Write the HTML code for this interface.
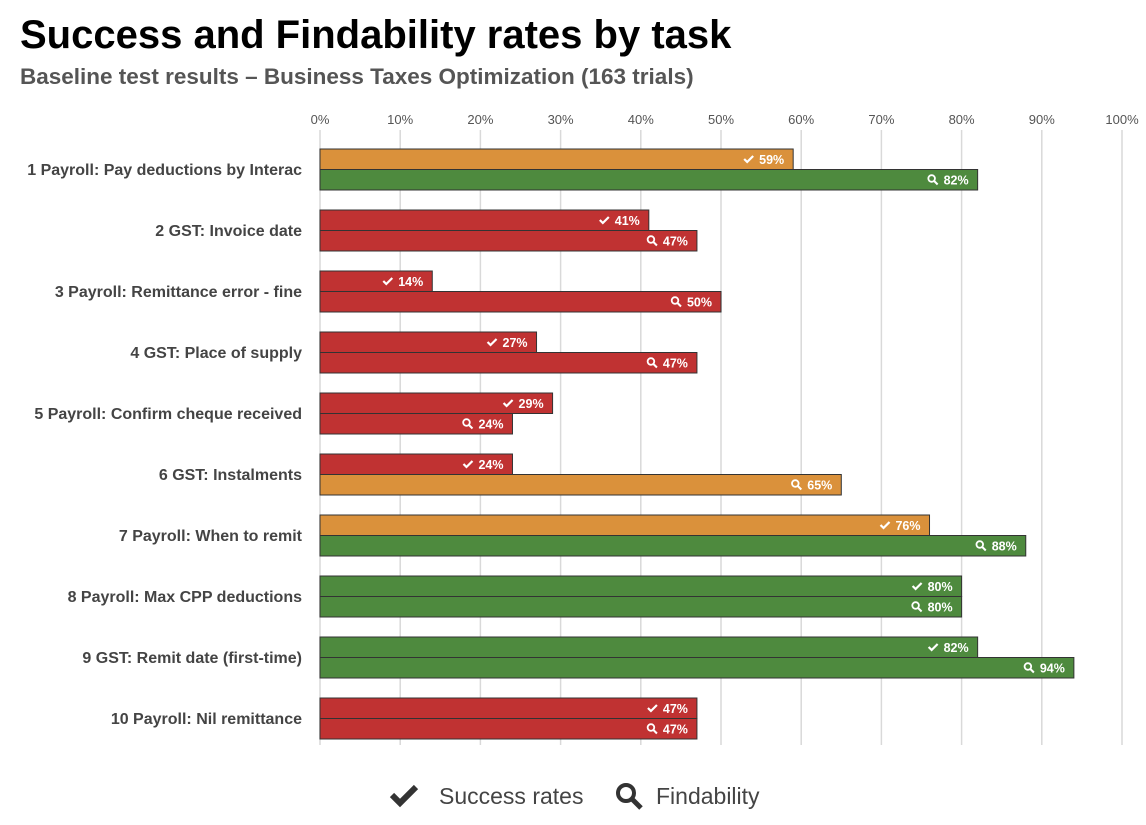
<!DOCTYPE html>
<html><head><meta charset="utf-8"><style>
body{margin:0;background:#fff;font-family:"Liberation Sans",sans-serif;}
svg{display:block}
</style></head><body>
<svg width="1146" height="825" id="chart">
<text x="20" y="48" font-size="40" font-weight="bold" fill="#000">Success and Findability rates by task</text>
<text x="20" y="84" font-size="22.5" font-weight="bold" fill="#555">Baseline test results – Business Taxes Optimization (163 trials)</text>
<g id="grid"></g><g id="bars"></g>
<g>
<path d="M392 795 l8 8 l16 -16" stroke="#333" stroke-width="6" fill="none"/>
<text x="439" y="804" font-size="23" fill="#444">Success rates</text>
<circle cx="626" cy="793" r="8" stroke="#333" stroke-width="4" fill="none"/>
<line x1="632" y1="799" x2="641" y2="808" stroke="#333" stroke-width="5"/>
<text x="656" y="804" font-size="23" fill="#444">Findability</text>
</g>
</svg>
<script>
const tasks=["1  Payroll: Pay deductions by Interac","2  GST: Invoice date","3  Payroll: Remittance error - fine","4  GST: Place of supply","5  Payroll: Confirm cheque received","6  GST: Instalments","7  Payroll: When to remit","8  Payroll: Max CPP deductions","9  GST: Remit date (first-time)","10  Payroll: Nil remittance"];
const success=[59,41,14,27,29,24,76,80,82,47];
const findability=[82,47,50,47,24,65,88,80,94,47];
const ticks=[0,10,20,30,40,50,60,70,80,90,100];
const NS="http://www.w3.org/2000/svg";
const X0=320,SC=8.02,Y0=149,ROW=61,BH=20.5;
const xs=v=>X0+v*SC;
function mk(t,a,p){const e=document.createElementNS(NS,t);for(const k in a)e.setAttribute(k,a[k]);p.appendChild(e);return e;}
function col(v){return v>=80?"#4E8A3E":v>50?"#DA913B":"#C03232";}
const g=document.getElementById('grid'),b=document.getElementById('bars');
ticks.forEach(t=>{
 const l=mk('line',{x1:xs(t),x2:xs(t),y1:130,y2:745,stroke:'#d9d9d9','stroke-width':1.5},g);
 
 
 const tx=mk('text',{x:xs(t),y:124,'font-size':13,fill:'#555','text-anchor':'middle'},g);
 tx.textContent=t+'%';
 
 
});
function bar(v,y,kind){
 const r=mk('rect',{x:X0,y:y,width:v*SC,height:BH,fill:col(v),stroke:'#333','stroke-width':1},b);
 
 
 const ex=xs(v)-9;
 const t=mk('text',{x:ex,y:y+15,'font-size':12.5,'font-weight':'bold',fill:'#fff','text-anchor':'end'},b);
 t.textContent=v+'%';
 
 
 const ix=ex-40;
 if(kind==='success'){
  const p=mk('path',{d:`M${ix} ${y+10} l3 3 l6 -6`,stroke:'#fff','stroke-width':2.2,fill:'none'},b);
  
  
 }else{
  const c=mk('circle',{cx:ix+3,cy:y+9,r:3.3,stroke:'#fff','stroke-width':1.8,fill:'none'},b);
  
  
  mk('line',{x1:ix+5.5,y1:y+11.5,x2:ix+9,y2:y+15,stroke:'#fff','stroke-width':2},b);
 }
}
tasks.forEach((n,i)=>{
 const y=Y0+i*ROW;
 const t=mk('text',{x:302,y:y+26,'font-size':16,'font-weight':'bold',fill:'#444','text-anchor':'end','xml:space':'preserve'},b);
 t.textContent=n;
 
 
 bar(success[i],y,'success');
 bar(findability[i],y+BH,'findability');
});
</script>
</body></html>
